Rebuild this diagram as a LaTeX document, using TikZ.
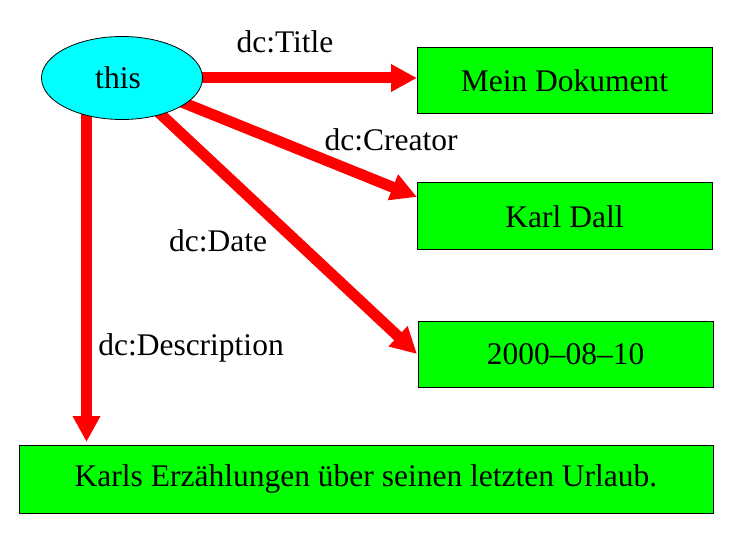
\documentclass[tikz,border=0pt]{standalone}
\usepackage{fontspec}
\setmainfont{Liberation Serif}
\usetikzlibrary{arrows.meta,shapes.geometric,backgrounds}
\definecolor{rdfred}{RGB}{255,0,0}
\definecolor{rdfcyan}{RGB}{0,255,255}
\definecolor{rdfgreen}{RGB}{0,255,0}
\begin{document}
\begin{tikzpicture}[x=1pt,y=-1pt,
  bigtext/.style={font=\fontsize{31.5}{36}\selectfont},
  resbox/.style={draw=black,line width=1pt,fill=rdfgreen,rectangle,inner sep=0pt,bigtext},
  propline/.style={draw=rdfred,line width=11pt,-{Triangle[length=26pt,width=26pt]}},
  proplabel/.style={bigtext,anchor=base,inner sep=0pt}]
\useasboundingbox (0,0) rectangle (730,534);
\node[ellipse,draw=black,line width=0.8pt,fill=rdfcyan,minimum width=161pt,minimum height=83pt,inner sep=0pt,bigtext] (this) at (122,78) {\hspace{-8pt}this};
\node[resbox,minimum width=295pt,minimum height=66pt] (mein) at (564.5,81) {Mein Dokument};
\node[resbox,minimum width=295pt,minimum height=67pt] (karl) at (564.5,216.5) {Karl Dall};
\node[resbox,minimum width=295pt,minimum height=66pt] (date) at (565.5,354) {2000–08–10};
\node[resbox,minimum width=694pt,minimum height=68pt] (desc) at (366,479) {Karls Erzählungen über seinen letzten Urlaub.};
\coordinate (ttip) at (417,78);
\coordinate (ctip) at (417,197);
\coordinate (dtip) at (417,354);
\coordinate (desctip) at (86.5,442);
\node[proplabel] (ltitle) at (285,53) {dc:Title};
\node[proplabel] (lcreator) at (391,151) {dc:Creator};
\node[proplabel] (ldate) at (218,252) {dc:Date};
\node[proplabel] (ldesc) at (191,355) {dc:Description};
\begin{scope}[on background layer]
\draw[propline] (this.center) -- (ttip);
\draw[propline] (this.center) -- (ctip);
\draw[propline] (this.center) -- (dtip);
\draw[propline] (this.center -| desctip) -- (desctip);
\end{scope}
\end{tikzpicture}
\end{document}
